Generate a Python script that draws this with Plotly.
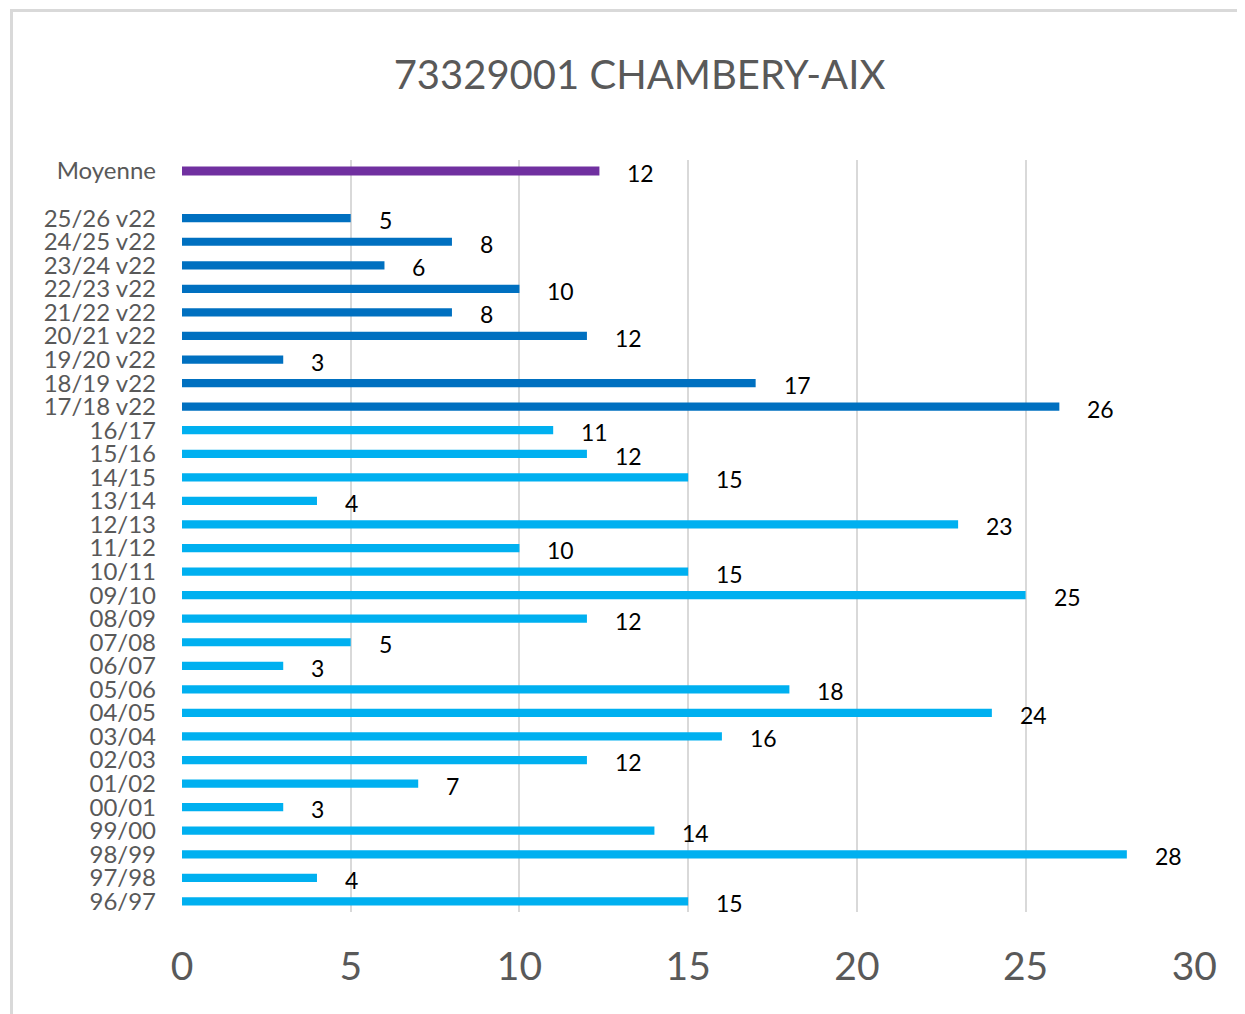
import plotly.graph_objects as go

# Categories top-to-bottom (seasons)
seasons = ["25/26 v22", "24/25 v22", "23/24 v22", "22/23 v22", "21/22 v22", "20/21 v22",
           "19/20 v22", "18/19 v22", "17/18 v22",
           "16/17", "15/16", "14/15", "13/14", "12/13", "11/12", "10/11", "09/10",
           "08/09", "07/08", "06/07", "05/06", "04/05", "03/04", "02/03", "01/02",
           "00/01", "99/00", "98/99", "97/98", "96/97"]
values = [5, 8, 6, 10, 8, 12, 3, 17, 26,
          11, 12, 15, 4, 23, 10, 15, 25,
          12, 5, 3, 18, 24, 16, 12, 7,
          3, 14, 28, 4, 15]
mean_label = "Moyenne"
mean_value = 12.37
x_ticks = [0, 5, 10, 15, 20, 25, 30]

FONT = "Lato"
GREY = "#595959"

n = len(seasons)
# numeric positions: bottom season at 0, top season at n-1, one empty slot, then Moyenne
pos = [n - 1 - i for i in range(n)]
mean_pos = n + 1

v22_idx = [i for i, s in enumerate(seasons) if "v22" in s]
old_idx = [i for i, s in enumerate(seasons) if "v22" not in s]

fig = go.Figure()
fig.add_trace(go.Bar(x=[values[i] for i in old_idx], y=[pos[i] for i in old_idx],
                     orientation="h", width=0.35, marker=dict(color="#00B0F0", line=dict(width=0))))
fig.add_trace(go.Bar(x=[values[i] for i in v22_idx], y=[pos[i] for i in v22_idx],
                     orientation="h", width=0.35, marker=dict(color="#0070C0", line=dict(width=0))))
fig.add_trace(go.Bar(x=[mean_value], y=[mean_pos], orientation="h", width=0.38,
                     marker=dict(color="#7030A0", line=dict(width=0))))

annotations = []
for v, p in list(zip(values, pos)) + [(mean_value, mean_pos)]:
    annotations.append(dict(x=v, y=p, xref="x", yref="y", text=f"{v:.0f}",
                            showarrow=False, xanchor="left", yanchor="middle",
                            xshift=26, yshift=-2,
                            font=dict(family=FONT, size=23, color="#000000")))

# page body has an 8px margin: compensate so the figure lands like the reference
OFF = 8
W, H = 1245, 1014
ML, MT = 182 - OFF, 160 - OFF
PW, PH = 1013, 752
MR = W - ML - PW
MB = H - MT - PH

fig.update_layout(
    width=W, height=H,
    paper_bgcolor="white", plot_bgcolor="white",
    showlegend=False,
    margin=dict(l=ML, r=MR, t=MT, b=MB),
    title=dict(text="73329001 CHAMBERY-AIX", x=(639.5 - OFF) / W, xanchor="center",
               y=1 - (75 - OFF) / H, yanchor="middle", yref="container",
               font=dict(family=FONT, size=40, color=GREY)),
    annotations=annotations,
    shapes=[dict(type="rect", xref="paper", yref="paper",
                 x0=(11.5 - 182) / PW, x1=1.3, y0=-0.3, y1=(912 - 10.5) / PH,
                 line=dict(color="#D9D9D9", width=3), fillcolor="rgba(0,0,0,0)", layer="below")],
    xaxis=dict(range=[0, 30.02], tickvals=x_ticks, ticktext=[str(t) for t in x_ticks],
               showgrid=True, gridcolor="#D9D9D9", gridwidth=2,
               zeroline=False, showline=False, ticks="",
               tickfont=dict(family=FONT, size=39, color=GREY), ticklabelstandoff=28),
    yaxis=dict(range=[-0.45, 31.47], tickvals=pos + [mean_pos], ticktext=seasons + [mean_label],
               showgrid=False, zeroline=False, showline=False, ticks="",
               tickfont=dict(family=FONT, size=24, color=GREY), ticklabelstandoff=25),
)

fig.write_html("out.html")
